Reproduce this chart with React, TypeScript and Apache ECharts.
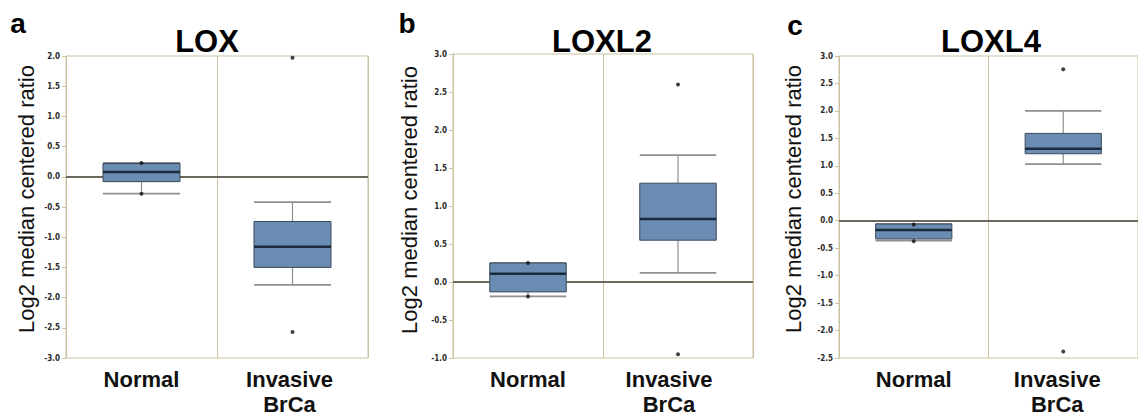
import React, { useEffect, useRef } from "react";
import * as echarts from "echarts";

// ---- Data ----
const categories = ["Normal", "Invasive\nBrCa"];
const panelLetters = ["a", "b", "c"];
const panelTitles = ["LOX", "LOXL2", "LOXL4"];
const yAxisName = "Log2 median centered ratio";

// [min, Q1, median, Q3, max] per category
const loxBoxes = [
  [-0.28, -0.08, 0.08, 0.22, 0.23],
  [-1.79, -1.5, -1.16, -0.74, -0.42],
];
const loxPoints = [
  [0, 0.23], [0, -0.28], [1, 1.97], [1, -2.57],
];
const loxl2Boxes = [
  [-0.19, -0.13, 0.11, 0.25, 0.25],
  [0.12, 0.55, 0.83, 1.3, 1.67],
];
const loxl2Points = [
  [0, 0.25], [0, -0.19], [1, 2.6], [1, -0.95],
];
const loxl4Boxes = [
  [-0.36, -0.33, -0.17, -0.06, -0.06],
  [1.03, 1.22, 1.31, 1.59, 2.0],
];
const loxl4Points = [
  [0, -0.07], [0, -0.375], [1, 2.76], [1, -2.38],
];

const yMins = [-3, -1, -2.5];
const yMaxs = [2, 3, 3];
const yInterval = 0.5;

const boxesByPanel = [loxBoxes, loxl2Boxes, loxl4Boxes];
const pointsByPanel = [loxPoints, loxl2Points, loxl4Points];

// ---- Layout / style ----
const grids = [
  { left: 66, top: 56, width: 302, height: 303 },
  { left: 453, top: 54, width: 300, height: 306 },
  { left: 839, top: 56, width: 309, height: 303 },
];
const invasiveShift = [6, 18, 12];
const letterPos = [[18, 23], [407, 23], [795, 25]];
const titlePos = [[207, 41], [602, 41], [991, 41]];
const yNamePos = [[26, 199], [409, 200], [793, 199]];

const FRAME = "#cbc2a2";
const BOX_FILL = "#6b8cb2";
const BOX_STROKE = "#3b4a5c";
const MEDIAN = "#1b2a3d";
const WHISKER = "#8f8f8f";
const ZERO = "#6c685e";

const catFont = {
  color: "#111",
  fontFamily: "Liberation Sans, Arial, sans-serif",
  fontWeight: "bold",
  fontSize: 22,
  lineHeight: 25,
};

export default function App() {
  const ref = useRef<HTMLDivElement>(null);

  useEffect(() => {
    if (!ref.current) return;
    const chart = echarts.init(ref.current, undefined, { renderer: "svg" });

    const renderBox = (params: any, api: any) => {
      const x = api.value(0);
      const pMin = api.coord([x, api.value(1)]);
      const pQ1 = api.coord([x, api.value(2)]);
      const pMed = api.coord([x, api.value(3)]);
      const pQ3 = api.coord([x, api.value(4)]);
      const pMax = api.coord([x, api.value(5)]);
      const bw = api.size([1, 0])[0] * 0.51;
      const cx = pMed[0];
      const l = cx - bw / 2;
      const r = cx + bw / 2;
      return {
        type: "group",
        children: [
          { type: "line", shape: { x1: cx, y1: pMin[1], x2: cx, y2: pQ1[1] }, style: { stroke: WHISKER, lineWidth: 1.2 } },
          { type: "line", shape: { x1: cx, y1: pQ3[1], x2: cx, y2: pMax[1] }, style: { stroke: WHISKER, lineWidth: 1.2 } },
          { type: "line", shape: { x1: l, y1: pMin[1], x2: r, y2: pMin[1] }, style: { stroke: WHISKER, lineWidth: 1.8 } },
          { type: "line", shape: { x1: l, y1: pMax[1], x2: r, y2: pMax[1] }, style: { stroke: WHISKER, lineWidth: 1.8 } },
          { type: "rect", shape: { x: l, y: pQ3[1], width: bw, height: pQ1[1] - pQ3[1] }, style: { fill: BOX_FILL, stroke: BOX_STROKE, lineWidth: 1 } },
          { type: "line", shape: { x1: l, y1: pMed[1], x2: r, y2: pMed[1] }, style: { stroke: MEDIAN, lineWidth: 2.5 } },
        ],
      };
    };

    const option: any = {
      animation: false,
      grid: grids.map((g) => ({
        ...g,
        show: true,
        borderColor: FRAME,
        borderWidth: 1,
        backgroundColor: "#ffffff",
        containLabel: false,
      })),
      xAxis: grids.map((_, i) => ({
        type: "category",
        gridIndex: i,
        data: categories,
        boundaryGap: true,
        axisLine: { show: true, lineStyle: { color: FRAME, width: 1 } },
        axisTick: { show: false },
        splitLine: { show: true, lineStyle: { color: FRAME, width: 1 } },
        axisLabel: {
          ...catFont,
          margin: 9,
          interval: 0,
          formatter: (v: string) =>
            v
              .split("\n")
              .map((s) => (v.indexOf("Invasive") === 0 ? `{i|${s}}` : `{n|${s}}`))
              .join("\n"),
          rich: {
            n: { ...catFont },
            i: { ...catFont, padding: [0, invasiveShift[i], 0, 0] },
          },
        },
      })),
      yAxis: grids.map((_, i) => ({
        type: "value",
        gridIndex: i,
        min: yMins[i],
        max: yMaxs[i],
        interval: yInterval,
        axisLine: { show: true, onZero: false, lineStyle: { color: FRAME, width: 1 } },
        axisTick: { show: true, length: 4, lineStyle: { color: FRAME } },
        splitLine: { show: false },
        axisLabel: {
          color: "#2a2a2a",
          fontFamily: "DejaVu Sans Condensed, DejaVu Sans, sans-serif",
          fontWeight: "bold",
          fontSize: 8,
          margin: 6,
          formatter: (v: number) => v.toFixed(1),
        },
      })),
      series: [
        ...boxesByPanel.map((boxes, i) => ({
          type: "custom",
          xAxisIndex: i,
          yAxisIndex: i,
          renderItem: renderBox,
          encode: { x: 0, y: [1, 2, 3, 4, 5] },
          data: boxes.map((b, k) => [k, ...b]),
          z: 3,
          markLine: {
            silent: true,
            symbol: "none",
            label: { show: false },
            lineStyle: { color: ZERO, width: 2, type: "solid" },
            data: [{ yAxis: 0 }],
            z: 2,
          },
        })),
        ...pointsByPanel.map((pts, i) => ({
          type: "scatter",
          xAxisIndex: i,
          yAxisIndex: i,
          symbol: "circle",
          symbolSize: 4,
          itemStyle: { color: "#111" },
          data: pts,
          z: 5,
        })),
      ],
      graphic: [
        ...panelLetters.map((t, i) => ({
          type: "text",
          x: letterPos[i][0],
          y: letterPos[i][1],
          style: {
            text: t,
            fill: "#000",
            font: "bold 28px 'Liberation Sans', Arial, sans-serif",
            align: "center",
            verticalAlign: "middle",
            textAlign: "center",
            textVerticalAlign: "middle",
          },
        })),
        ...panelTitles.map((t, i) => ({
          type: "text",
          x: titlePos[i][0],
          y: titlePos[i][1],
          z: 10,
          style: {
            text: t,
            fill: "#000",
            font: "bold 31px 'Liberation Sans', Arial, sans-serif",
            align: "center",
            verticalAlign: "middle",
            textAlign: "center",
            textVerticalAlign: "middle",
          },
        })),
        ...yNamePos.map((p) => ({
          type: "text",
          x: p[0],
          y: p[1],
          rotation: Math.PI / 2,
          style: {
            text: yAxisName,
            fill: "#111",
            font: "22px 'Liberation Sans', Arial, sans-serif",
            align: "center",
            verticalAlign: "middle",
            textAlign: "center",
            textVerticalAlign: "middle",
          },
        })),
      ],
    };

    chart.setOption(option);
    return () => chart.dispose();
  }, []);

  return (
    <div
      ref={ref}
      style={{ position: "absolute", left: 0, top: 0, width: 1138, height: 417, background: "#fff" }}
    />
  );
}
